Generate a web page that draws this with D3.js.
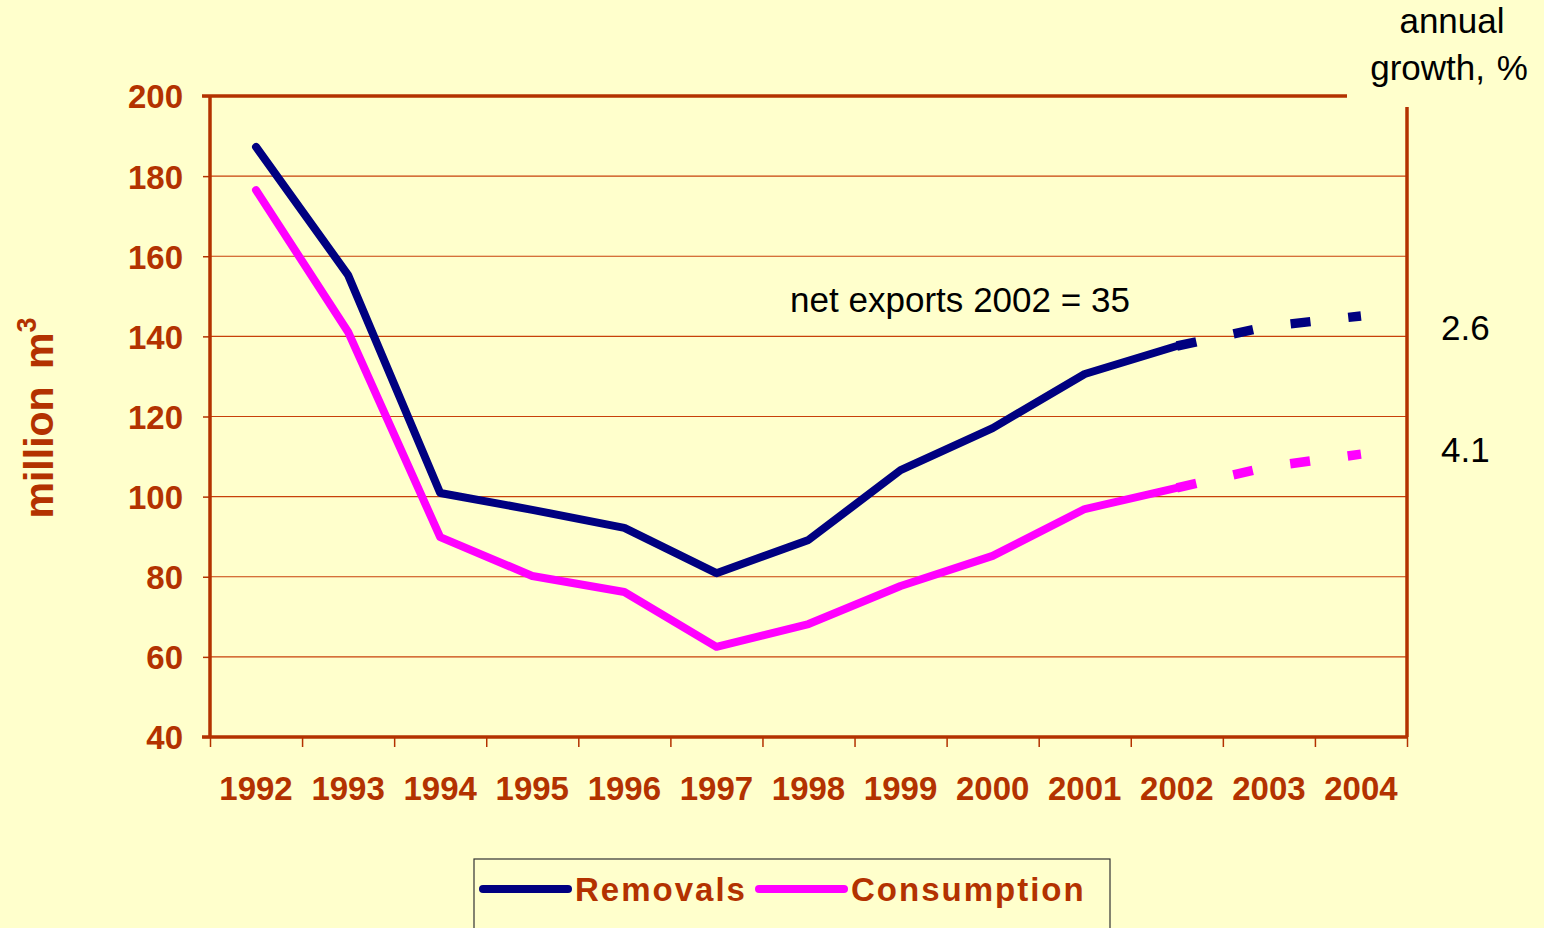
<!DOCTYPE html>
<html>
<head>
<meta charset="utf-8">
<script src="https://cdn.jsdelivr.net/npm/d3@7"></script>
<style>
  body { margin: 0; background: #FFFFCC; }
  svg { display: block; font-family: "Liberation Sans", Arial, sans-serif; }
</style>
</head>
<body>
<div id="chart"></div>
<script>
'use strict';

// data
const years = ["1992", "1993", "1994", "1995", "1996", "1997", "1998", "1999", "2000", "2001", "2002", "2003", "2004"]
const removals = [187.3, 155.3, 100.9, 96.7, 92.2, 80.9, 89.2, 106.6, 117.1, 130.6, 137.6]
const consumption = [176.5, 141.1, 89.9, 80.2, 76.2, 62.5, 68.2, 77.7, 85.2, 96.9, 102.2]
// forecast part, 2002-2004
const removalsForecast = [137.6, 142.5, 145.1]
const consumptionForecast = [102.2, 107.5, 110.6]
const growthLabels = ["2.6", "4.1"]
const yTicks = [40, 60, 80, 100, 120, 140, 160, 180, 200]

const width = 1544, height = 928
const rust = "#B33200"
const plot = { left: 210, right: 1407, top: 96, bottom: 737 }

const svg = d3.select("#chart").append("svg")
    .attr("width", width)
    .attr("height", height)

svg.append("rect").attr("width", width).attr("height", height).attr("fill", "#FFFFCC")

// scales: x by index so ticks sit on category boundaries
const x = d3.scaleLinear().domain([0, years.length]).range([plot.left, plot.right])
const y = d3.scaleLinear().domain([40, 200]).range([plot.bottom, plot.top])
const xc = i => x(i + 0.5)

// gridlines
svg.append("g")
    .selectAll("line")
    .data(yTicks.filter(d => d > 40 && d < 200))
    .enter().append("line")
    .attr("x1", plot.left).attr("x2", plot.right)
    .attr("y1", d => y(d)).attr("y2", d => y(d))
    .attr("stroke", "#C8400A")
    .attr("stroke-width", 1.2)

// y axis
const yAxis = svg.append("g")
    .attr("transform", `translate(${plot.left},0)`)
    .call(d3.axisLeft(y).tickValues(yTicks).tickSize(7).tickPadding(20))
yAxis.select(".domain").remove()
yAxis.selectAll("line").attr("stroke", rust).attr("stroke-width", 1.5)
yAxis.selectAll("text")
    .attr("fill", rust)
    .attr("font-size", 33)
    .attr("font-weight", "bold")
    .attr("font-family", "Liberation Sans, Arial, sans-serif")
    .attr("dy", "0.36em")

// x axis ticks at boundaries
const xAxis = svg.append("g")
    .attr("transform", `translate(0,${plot.bottom})`)
    .call(d3.axisBottom(x).tickValues(d3.range(years.length + 1)).tickSize(10).tickFormat(""))
xAxis.select(".domain").remove()
xAxis.selectAll("line").attr("stroke", rust).attr("stroke-width", 1.5)

// x labels
svg.append("g")
    .selectAll("text")
    .data(years)
    .enter().append("text")
    .attr("x", (d, i) => xc(i))
    .attr("y", 800)
    .attr("text-anchor", "middle")
    .attr("fill", rust)
    .attr("font-size", 33)
    .attr("font-weight", "bold")
    .text(d => d)

// frame (top border broken by the right-hand title)
const frame = svg.append("g").attr("stroke", rust).attr("stroke-width", 3.5).attr("fill", "none")
frame.append("line").attr("x1", plot.left).attr("x2", plot.left).attr("y1", plot.top).attr("y2", plot.bottom)
frame.append("line").attr("x1", plot.left - 8).attr("x2", plot.right).attr("y1", plot.bottom).attr("y2", plot.bottom)
frame.append("line").attr("x1", plot.left - 8).attr("x2", 1347).attr("y1", plot.top).attr("y2", plot.top)
frame.append("line").attr("x1", plot.right).attr("x2", plot.right).attr("y1", 107).attr("y2", plot.bottom)

// lines
const line = d3.line().x(d => xc(d.i)).y(d => y(d.v))
const series = [
    { name: "Removals", color: "#000080", values: removals, forecast: removalsForecast },
    { name: "Consumption", color: "#FF00FF", values: consumption, forecast: consumptionForecast }
]

series.forEach(s => {
    const start = s.values.length - 1
    svg.append("path")
        .datum(s.forecast.map((v, k) => ({ i: start + k, v })))
        .attr("d", line)
        .attr("fill", "none")
        .attr("stroke", s.color)
        .attr("stroke-width", 9.5)
        .attr("stroke-dasharray", "20,38")
    svg.append("path")
        .datum(s.values.map((v, i) => ({ i, v })))
        .attr("d", line)
        .attr("fill", "none")
        .attr("stroke", s.color)
        .attr("stroke-width", 8)
        .attr("stroke-linejoin", "round")
        .attr("stroke-linecap", "round")
})

// annotations
const noteSize = 35
svg.append("text")
    .attr("x", 790).attr("y", 312)
    .attr("font-size", noteSize).attr("fill", "#000")
    .attr("textLength", 340)
    .text("net exports 2002 = 35")
svg.append("text")
    .attr("x", 1452).attr("y", 33)
    .attr("text-anchor", "middle")
    .attr("font-size", noteSize).attr("fill", "#000")
    .text("annual")
svg.append("text")
    .attr("x", 1449).attr("y", 80)
    .attr("text-anchor", "middle")
    .attr("font-size", noteSize).attr("fill", "#000")
    .attr("word-spacing", 2)
    .text("growth, %")
const growthY = [340, 462]
svg.append("g")
    .selectAll("text")
    .data(growthLabels)
    .enter().append("text")
    .attr("x", 1441)
    .attr("y", (d, i) => growthY[i])
    .attr("font-size", noteSize).attr("fill", "#000")
    .text(d => d)

// y axis title
const yTitle = svg.append("text")
    .attr("transform", "translate(53,418) rotate(-90)")
    .attr("text-anchor", "middle")
    .attr("fill", rust)
    .attr("font-size", 41)
    .attr("font-weight", "bold")
    .attr("word-spacing", 6)
yTitle.append("tspan").text("million m")
yTitle.append("tspan").attr("font-size", 27).attr("dy", -17).text("3")

// legend
const legend = svg.append("g").attr("transform", "translate(474,859)")
legend.append("rect")
    .attr("width", 636).attr("height", 80)
    .attr("fill", "#FFFFCC")
    .attr("stroke", "#333").attr("stroke-width", 1.2)
const legendX = [[9, 94, 101], [285, 370, 377]]
series.forEach((s, i) => {
    legend.append("line")
        .attr("x1", legendX[i][0]).attr("x2", legendX[i][1])
        .attr("y1", 30).attr("y2", 30)
        .attr("stroke", s.color).attr("stroke-width", 8).attr("stroke-linecap", "round")
    legend.append("text")
        .attr("x", legendX[i][2]).attr("y", 42)
        .attr("fill", rust)
        .attr("font-size", 33)
        .attr("font-weight", "bold")
        .attr("letter-spacing", 2)
        .text(s.name)
})
</script>
</body>
</html>
